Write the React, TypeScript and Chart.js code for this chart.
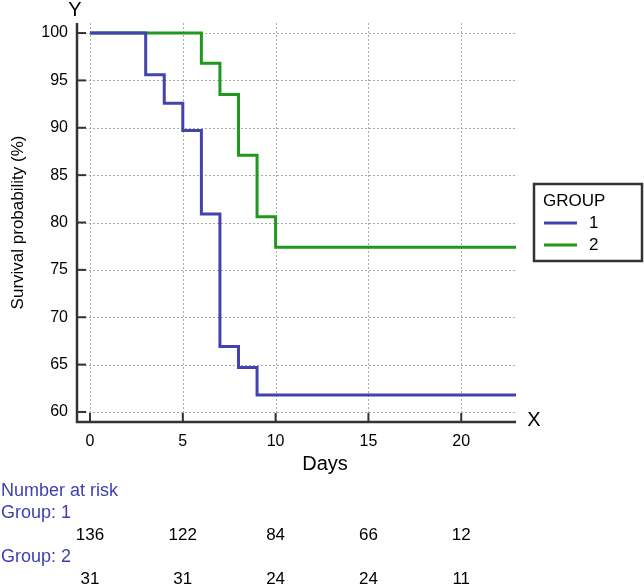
import React, { useEffect, useRef } from "react";
import { Chart, registerables } from "chart.js";

Chart.register(...registerables);

// ---- data ----
const g1Days = [0, 3, 4, 5, 6, 7, 8, 9];
const g1Surv = [100, 95.6, 92.6, 89.7, 80.9, 66.9, 64.7, 61.8];
const g2Days = [0, 6, 7, 8, 9, 10];
const g2Surv = [100, 96.8, 93.5, 87.1, 80.6, 77.4];
const followUpEnd = 22.95;

const xTicks = [0, 5, 10, 15, 20];
const yTicks = [60, 65, 70, 75, 80, 85, 90, 95, 100];

const riskTimes = [0, 5, 10, 15, 20];
const riskG1 = [136, 122, 84, 66, 12];
const riskG2 = [31, 31, 24, 24, 11];

const groupLabels = ["1", "2"];
const groupColors = ["#4343ad", "#20981e"];

const FONT = "'Liberation Sans', Arial, sans-serif";
const AXIS = "#333333";
const LABEL_BLUE = "#3e3eb4";

function buildSeries(days: number[], surv: number[]) {
  const pts = days.map((d, i) => ({ x: d, y: surv[i] }));
  pts.push({ x: followUpEnd, y: surv[surv.length - 1] });
  return pts;
}

const kmPlugin = {
  id: "kmDecor",
  beforeDatasetsDraw(chart: any) {
    const { ctx, chartArea } = chart;
    const xs = chart.scales.x;
    const ys = chart.scales.y;
    ctx.save();
    ctx.strokeStyle = "#aaaaaa";
    ctx.lineWidth = 1;
    ctx.setLineDash([2, 2]);
    xTicks.forEach((v) => {
      const px = Math.round(xs.getPixelForValue(v)) + 0.5;
      ctx.beginPath();
      ctx.moveTo(px, chartArea.top);
      ctx.lineTo(px, chartArea.bottom);
      ctx.stroke();
    });
    yTicks.forEach((v) => {
      const py = Math.round(ys.getPixelForValue(v)) + 0.5;
      ctx.beginPath();
      ctx.moveTo(chartArea.left, py);
      ctx.lineTo(chartArea.right, py);
      ctx.stroke();
    });
    ctx.restore();
  },
  afterDatasetsDraw(chart: any) {
    const { ctx, chartArea } = chart;
    const xs = chart.scales.x;
    const ys = chart.scales.y;
    const L = chartArea.left;
    const B = chartArea.bottom;
    ctx.save();
    // axes
    ctx.setLineDash([]);
    ctx.strokeStyle = AXIS;
    ctx.lineWidth = 2.5;
    ctx.beginPath();
    ctx.moveTo(L, chartArea.top);
    ctx.lineTo(L, B);
    ctx.lineTo(chartArea.right, B);
    ctx.stroke();
    // inward ticks
    ctx.lineWidth = 2;
    xTicks.forEach((v) => {
      const px = xs.getPixelForValue(v);
      ctx.beginPath();
      ctx.moveTo(px, B);
      ctx.lineTo(px, B - 9);
      ctx.stroke();
    });
    yTicks.forEach((v) => {
      const py = ys.getPixelForValue(v);
      ctx.beginPath();
      ctx.moveTo(L, py);
      ctx.lineTo(L + 9, py);
      ctx.stroke();
    });
    // tick labels
    ctx.fillStyle = "#000000";
    ctx.font = `16px ${FONT}`;
    ctx.textBaseline = "middle";
    ctx.textAlign = "right";
    yTicks.forEach((v) => {
      ctx.fillText(String(v), L - 9, ys.getPixelForValue(v));
    });
    ctx.textAlign = "center";
    xTicks.forEach((v) => {
      ctx.fillText(String(v), xs.getPixelForValue(v), B + 20);
    });
    // axis titles
    ctx.font = `20px ${FONT}`;
    ctx.fillText("Days", 325, B + 42);
    ctx.fillText("Y", 75, 10);
    ctx.fillText("X", 534, 420);
    ctx.save();
    ctx.translate(18, (chartArea.top + chartArea.bottom) / 2);
    ctx.rotate(-Math.PI / 2);
    ctx.font = `17px ${FONT}`;
    ctx.fillText("Survival probability (%)", 0, 0);
    ctx.restore();
    // legend
    ctx.strokeStyle = AXIS;
    ctx.lineWidth = 2.5;
    ctx.strokeRect(534, 184, 108, 77);
    ctx.font = `17px ${FONT}`;
    ctx.textAlign = "left";
    ctx.fillStyle = "#000000";
    ctx.fillText("GROUP", 543, 201);
    groupLabels.forEach((lab, i) => {
      const y = 223 + i * 22;
      ctx.strokeStyle = groupColors[i];
      ctx.lineWidth = 3;
      ctx.beginPath();
      ctx.moveTo(544, y);
      ctx.lineTo(577, y);
      ctx.stroke();
      ctx.fillStyle = "#000000";
      ctx.fillText(lab, 589, y);
    });
    // number at risk
    ctx.font = `18px ${FONT}`;
    ctx.fillStyle = LABEL_BLUE;
    ctx.fillText("Number at risk", 1, 491);
    ctx.fillText("Group: 1", 1, 513);
    ctx.fillText("Group: 2", 1, 557);
    ctx.fillStyle = "#000000";
    ctx.textAlign = "center";
    ctx.font = `17px ${FONT}`;
    riskTimes.forEach((t, i) => {
      const px = xs.getPixelForValue(t);
      ctx.fillText(String(riskG1[i]), px, 535);
      ctx.fillText(String(riskG2[i]), px, 579);
    });
    ctx.restore();
  },
};

export default function App() {
  const ref = useRef<HTMLCanvasElement | null>(null);
  useEffect(() => {
    if (!ref.current) return;
    const chart = new Chart(ref.current, {
      type: "line",
      data: {
        datasets: [
          {
            label: groupLabels[0],
            data: buildSeries(g1Days, g1Surv),
            borderColor: groupColors[0],
            borderWidth: 3,
            stepped: true,
            pointRadius: 0,
            fill: false,
            borderJoinStyle: "miter",
          },
          {
            label: groupLabels[1],
            data: buildSeries(g2Days, g2Surv),
            borderColor: groupColors[1],
            borderWidth: 3,
            stepped: true,
            pointRadius: 0,
            fill: false,
            borderJoinStyle: "miter",
          },
        ],
      },
      options: {
        responsive: false,
        animation: false,
        layout: { padding: { left: 0, right: 128, top: 23, bottom: 0 } },
        plugins: { legend: { display: false }, tooltip: { enabled: false } },
        scales: {
          x: {
            type: "linear",
            min: -0.7,
            max: followUpEnd,
            afterBuildTicks: (s: any) => {
              s.ticks = xTicks.map((v) => ({ value: v }));
            },
            ticks: { display: false },
            grid: { display: false },
            border: { display: false },
            afterFit: (s: any) => {
              s.height = 165;
            },
          },
          y: {
            type: "linear",
            min: 58.94,
            max: 101.06,
            afterBuildTicks: (s: any) => {
              s.ticks = yTicks.map((v) => ({ value: v }));
            },
            ticks: { display: false },
            grid: { display: false },
            border: { display: false },
            afterFit: (s: any) => {
              s.width = 77;
            },
          },
        },
      } as any,
      plugins: [kmPlugin],
    });
    return () => chart.destroy();
  }, []);
  return (
    <div style={{ position: "fixed", left: 0, top: 0, width: 644, height: 587, background: "#fff" }}>
      <canvas ref={ref} width={644} height={587} style={{ width: 644, height: 587 }} />
    </div>
  );
}
